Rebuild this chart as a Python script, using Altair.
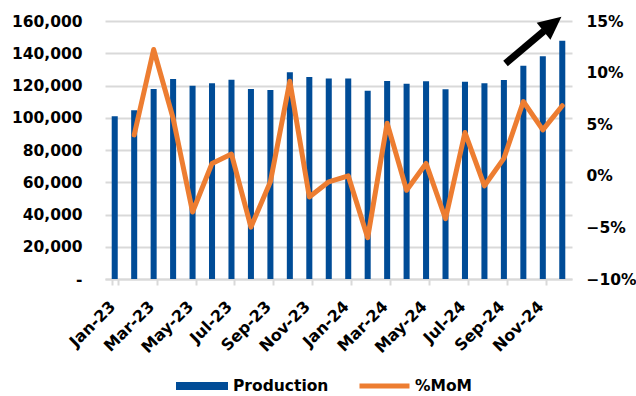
import altair as alt
import pandas as pd

# Monthly production and month-on-month change
months = [
    "Jan-23", "Feb-23", "Mar-23", "Apr-23", "May-23", "Jun-23",
    "Jul-23", "Aug-23", "Sep-23", "Oct-23", "Nov-23", "Dec-23",
    "Jan-24", "Feb-24", "Mar-24", "Apr-24", "May-24", "Jun-24",
    "Jul-24", "Aug-24", "Sep-24", "Oct-24", "Nov-24", "Dec-24",
]
production = [
    101000, 104700, 117800, 124100, 119900, 121400,
    123600, 117800, 117200, 128200, 125300, 124300,
    124300, 116800, 122800, 121100, 122600, 117600,
    122400, 121400, 123400, 132200, 138200, 147700,
]
mom = [
    None, 0.0396, 0.1224, 0.0558, -0.0351, 0.0120,
    0.0211, -0.0497, -0.0058, 0.0916, -0.0205, -0.0058,
    0.0000, -0.0600, 0.0510, -0.0140, 0.0120, -0.0416,
    0.0419, -0.0097, 0.0169, 0.0720, 0.0445, 0.0679,
]
left_ticks = [0, 20000, 40000, 60000, 80000, 100000, 120000, 140000, 160000]
right_ticks = [-0.10, -0.05, 0.0, 0.05, 0.10, 0.15]

BLUE = "#004C97"
ORANGE = "#ED7D31"
GRID = "#D9D9D9"
FONT = "DejaVu Sans"
FS = 15.5

df = pd.DataFrame({"month": months, "production": production, "mom": mom})

x_enc = alt.X(
    "month:N",
    sort=months,
    title=None,
    scale=alt.Scale(paddingInner=0.69, paddingOuter=0.345),
    axis=alt.Axis(
        values=months[::2],
        labelAngle=-45,
        tickBand="extent",
        tickSize=6,
        tickWidth=2,
        tickColor=GRID,
        domainColor=GRID,
        domainWidth=2,
        labelFont=FONT,
        labelFontWeight="bold",
        labelFontSize=16,
        labelColor="black",
        labelPadding=13,
        labelOffset=-8,
        grid=False,
    ),
)

legend_text = dict(
    title=None,
    orient="none",
    direction="horizontal",
    labelFont=FONT,
    labelFontWeight="bold",
    labelFontSize=FS,
    labelColor="black",
    padding=0,
)

bars = alt.Chart(df).transform_calculate(series="'Production'").mark_bar().encode(
    x=x_enc,
    y=alt.Y(
        "production:Q",
        title=None,
        scale=alt.Scale(domain=[0, 160000], nice=False),
        axis=alt.Axis(
            values=left_ticks,
            labelExpr="datum.value == 0 ? '-\u00a0\u00a0' : format(datum.value, ',')",
            domain=False,
            ticks=False,
            gridColor=GRID,
            gridWidth=2,
            labelFont=FONT,
            labelFontWeight="bold",
            labelFontSize=FS,
            labelColor="black",
            labelPadding=23,
        ),
    ),
    fill=alt.Fill(
        "series:N",
        scale=alt.Scale(domain=["Production"], range=[BLUE]),
        legend=alt.Legend(
            legendX=71,
            legendY=339,
            symbolType="M-1,-0.155H1V0.155H-1Z",
            symbolSize=2704,
            symbolStrokeWidth=0,
            labelOffset=5,
            **legend_text,
        ),
    ),
)

line = alt.Chart(df).transform_calculate(series="'%MoM'").mark_line(
    strokeWidth=5, strokeJoin="round", strokeCap="round"
).encode(
    x=x_enc,
    y=alt.Y(
        "mom:Q",
        title=None,
        scale=alt.Scale(domain=[-0.10, 0.15], nice=False),
        axis=alt.Axis(
            orient="right",
            values=right_ticks,
            format=".0%",
            domain=False,
            ticks=False,
            grid=False,
            labelFont=FONT,
            labelFontWeight="bold",
            labelFontSize=FS,
            labelColor="black",
            labelPadding=14,
        ),
    ),
    stroke=alt.Stroke(
        "series:N",
        scale=alt.Scale(domain=["%MoM"], range=[ORANGE]),
        legend=alt.Legend(
            legendX=252,
            legendY=337.5,
            symbolType="stroke",
            symbolSize=2500,
            symbolStrokeWidth=5,
            labelOffset=3,
            **legend_text,
        ),
    ),
)

# Upward trend arrow in the top-right corner
anchor = pd.DataFrame({"k": [0]})
arrow_shaft = alt.Chart(anchor).mark_rule(color="black", strokeWidth=7).encode(
    x=alt.value(400.5), y=alt.value(42.5), x2=alt.value(439), y2=alt.value(10)
)
arrow_head = alt.Chart(anchor).mark_point(
    shape="M0,-1L0.95,1L-0.95,1Z", filled=True, color="black", opacity=1,
    size=529, angle=51, strokeWidth=0
).encode(x=alt.value(447.5), y=alt.value(3))

chart = (
    alt.layer(bars, line, arrow_shaft, arrow_head)
    .resolve_scale(y="independent")
    .properties(
        width=467,
        height=258,
        autosize=alt.AutoSizeParams(type="none"),
        padding={"left": 105, "top": 21, "right": 64, "bottom": 117},
    )
    .configure_view(stroke=None)
)

chart.save("out.html", embed_options={"renderer": "svg", "actions": False})
